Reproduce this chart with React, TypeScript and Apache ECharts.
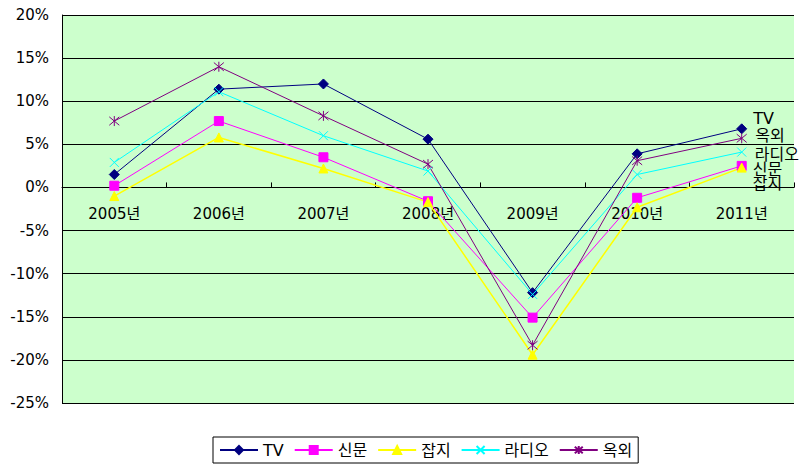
import React, { useEffect, useRef } from "react";
import * as echarts from "echarts";

const categories = ["2005년", "2006년", "2007년", "2008년", "2009년", "2010년", "2011년"];
const seriesNames = ["TV", "신문", "잡지", "라디오", "옥외"];
const tvValues = [1.5, 11.4, 12.0, 5.6, -12.2, 3.9, 6.8];
const newspaperValues = [0.2, 7.7, 3.5, -1.6, -15.1, -1.2, 2.5];
const magazineValues = [-1.0, 5.8, 2.2, -1.7, -19.4, -2.3, 2.3];
const radioValues = [2.9, 11.1, 6.0, 1.9, -12.4, 1.5, 4.1];
const outdoorValues = [7.7, 14.0, 8.3, 2.7, -18.3, 3.1, 5.7];
const yTicks = { min: -25, max: 20, interval: 5 };

const FONT = '"DejaVu Sans", "Noto Sans CJK KR", sans-serif';

const styles = [
  { color: "#000080", symbol: "diamond", size: 10, fill: "#000080", width: 1, labelOffset: [0, -10] },
  { color: "#FF00FF", symbol: "rect", size: 9, fill: "#FF00FF", width: 1, labelOffset: [0, 4] },
  { color: "#FFFF00", symbol: "triangle", size: 9, fill: "#FFFF00", width: 1.5, labelOffset: [0, 16] },
  { color: "#00FFFF", symbol: "path://M0,0L10,10M10,0L0,10", size: 9, fill: "none", width: 1, labelOffset: [0, 2] },
  { color: "#800080", symbol: "path://M0,0L10,10M10,0L0,10M5,-1L5,11", size: 10, fill: "none", width: 1, labelOffset: [0, -3] },
];

const allValues = [tvValues, newspaperValues, magazineValues, radioValues, outdoorValues];

const GRID_TOP = 15;
const GRID_BOTTOM = 66;
const HEIGHT = 469;

export default function App() {
  const ref = useRef<HTMLDivElement>(null);
  useEffect(() => {
    if (!ref.current) return;
    const chart = echarts.init(ref.current, null, { renderer: "svg" });
    const plotH = HEIGHT - GRID_TOP - GRID_BOTTOM;
    const zeroFromBottom = (plotH * (0 - yTicks.min)) / (yTicks.max - yTicks.min);
    const series = seriesNames.map((name, i) => {
      const st = styles[i];
      const vals = allValues[i];
      return {
        name,
        type: "line",
        symbol: st.symbol,
        symbolSize: st.size,
        lineStyle: { color: st.color, width: st.width },
        itemStyle: { color: st.fill, borderColor: st.color, borderWidth: 1 },
        data: vals.map((v, j) =>
          j === vals.length - 1
            ? {
                value: v,
                label: {
                  show: true,
                  position: "right",
                  distance: 6,
                  offset: st.labelOffset,
                  formatter: name,
                  color: "#000",
                  fontSize: 16,
                  fontFamily: FONT,
                },
              }
            : v
        ),
      };
    });
    chart.setOption({
      animation: false,
      backgroundColor: "#fff",
      grid: {
        left: 62,
        right: 6,
        top: GRID_TOP,
        bottom: GRID_BOTTOM,
        show: true,
        backgroundColor: "#CCFFCC",
        borderWidth: 0,
        containLabel: false,
      },
      legend: {
        bottom: 6,
        left: 213,
        itemWidth: 38,
        itemHeight: 10,
        itemGap: 10,
        padding: [5, 6],
        borderColor: "#000",
        borderWidth: 1,
        textStyle: { fontSize: 16, fontFamily: FONT, color: "#000" },
        data: seriesNames,
      },
      xAxis: {
        type: "category",
        data: categories,
        boundaryGap: true,
        position: "bottom",
        offset: -zeroFromBottom,
        axisLine: { onZero: false, lineStyle: { color: "#000", width: 1 } },
        axisTick: { show: true, inside: true, length: 5, lineStyle: { color: "#000" } },
        axisLabel: { color: "#000", fontSize: 15, fontFamily: FONT, margin: 19 },
        splitLine: { show: false },
      },
      yAxis: {
        type: "value",
        min: yTicks.min,
        max: yTicks.max,
        interval: yTicks.interval,
        axisLine: { show: true, lineStyle: { color: "#000", width: 1 } },
        axisTick: { show: false },
        axisLabel: { color: "#000", fontSize: 15, fontFamily: FONT, margin: 13, formatter: "{value}%" },
        splitLine: { show: true, lineStyle: { color: "#000", width: 1 } },
      },
      series,
    });
    return () => chart.dispose();
  }, []);
  return (
    <div
      ref={ref}
      style={{ position: "fixed", left: 0, top: 0, width: 800, height: 469, background: "#fff" }}
    />
  );
}
